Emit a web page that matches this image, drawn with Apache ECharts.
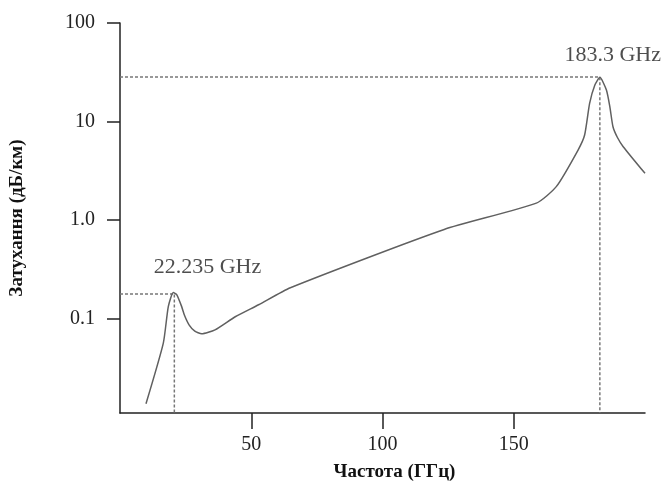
<!DOCTYPE html>
<html>
<head>
<meta charset="utf-8">
<script src="https://cdn.jsdelivr.net/npm/echarts@6/dist/echarts.min.js"></script>
<style>
  html, body { margin: 0; padding: 0; background: #fff; }
  #chart { width: 665px; height: 484px; }
</style>
</head>
<body>
<div id="chart"></div>
<script>
// frequency (GHz) and attenuation (dB/km)
const freq = [9.9, 16.5, 18.4, 20.3, 21.6, 23.5, 24.6, 26.3, 28.5, 31.1, 36.2, 43.9, 52.8, 64.9, 123.5, 158.6, 166.2, 174.5, 177.0, 178.9, 180.9, 182.8, 185.3, 186.6, 187.8, 189.5, 191.7, 200];
const atten = [0.0138, 0.0568, 0.133, 0.185, 0.176, 0.133, 0.108, 0.087, 0.075, 0.0705, 0.0774, 0.105, 0.139, 0.207, 0.807, 1.49, 2.19, 5.15, 7.31, 15.3, 23.5, 28.1, 20.9, 14.2, 8.87, 6.9, 5.57, 2.99];

const yMin = 0.0111;
const yMax = 100;
const xTicks = [50, 100, 150];
const yTicks = [0.1, 1, 10, 100];
const yTickLabels = ['0.1', '1.0', '10', '100'];

// resonance guides
const peak1 = [20.7, 0.179];
const peak2 = [182.8, 28.3];
const peak1Label = '22.235 GHz';
const peak2Label = '183.3 GHz';
const peak1LabelPos = [33.3, 0.33];
const peak2LabelPos = [187.7, 46.8];

const font = '"Liberation Serif", "DejaVu Serif", serif';

const myChart = echarts.init(document.getElementById('chart'));

const guide = (p) => [[0, p[1]], [p[0], p[1]], [p[0], yMin]];

const option = {
    animation: false,
    textStyle: { fontFamily: font },
    grid: { left: 120, right: 20, top: 23, bottom: 71, outerBoundsMode: 'none' },
    xAxis: {
        type: 'value',
        min: 0,
        max: 200,
        name: 'Частота (ГГц)',
        nameLocation: 'middle',
        nameGap: 50,
        nameTextStyle: { fontFamily: font, fontWeight: 'bold', fontSize: 19, color: '#111', padding: [0, 0, 0, 24] },
        axisLine: { lineStyle: { color: '#222', width: 1.5 } },
        axisTick: { show: true, inside: false, length: 16, lineStyle: { color: '#222', width: 1.5 }, customValues: xTicks },
        axisLabel: { fontFamily: font, fontSize: 20, color: '#222', margin: 22, customValues: xTicks },
        splitLine: { show: false }
    },
    yAxis: {
        type: 'log',
        logBase: 10,
        min: yMin,
        max: yMax,
        name: 'Затухання (дБ/км)',
        nameLocation: 'middle',
        nameGap: 93,
        nameTextStyle: { fontFamily: font, fontWeight: 'bold', fontSize: 19, color: '#111' },
        axisLine: { show: true, lineStyle: { color: '#222', width: 1.5 } },
        axisTick: { show: true, inside: false, length: 13, lineStyle: { color: '#222', width: 1.5 }, customValues: yTicks },
        axisLabel: {
            fontFamily: font, fontSize: 20, color: '#222', margin: 25,
            customValues: yTicks,
            formatter: (v) => {
                const i = yTicks.findIndex(t => Math.abs(t - v) / t < 1e-6);
                return i >= 0 ? yTickLabels[i] : '';
            }
        },
        splitLine: { show: false },
        minorTick: { show: false }
    },
    series: [
        {
            type: 'line',
            data: freq.map((f, i) => [f, atten[i]]),
            showSymbol: false,
            smooth: 0.2,
            lineStyle: { color: '#606060', width: 1.5 },
            z: 3
        },
        {
            type: 'line',
            data: guide(peak1),
            showSymbol: false,
            lineStyle: { color: '#777', width: 1.5, type: [3, 2] },
            z: 2
        },
        {
            type: 'line',
            data: guide(peak2),
            showSymbol: false,
            lineStyle: { color: '#777', width: 1.5, type: [3, 2] },
            z: 2
        },
        {
            type: 'scatter',
            symbolSize: 0,
            data: [
                { value: peak1LabelPos, label: { formatter: peak1Label } },
                { value: peak2LabelPos, label: { formatter: peak2Label } }
            ],
            label: { show: true, position: 'inside', fontFamily: font, fontSize: 22, color: '#222' },
            silent: true
        }
    ]
};

myChart.setOption(option);
</script>
</body>
</html>
